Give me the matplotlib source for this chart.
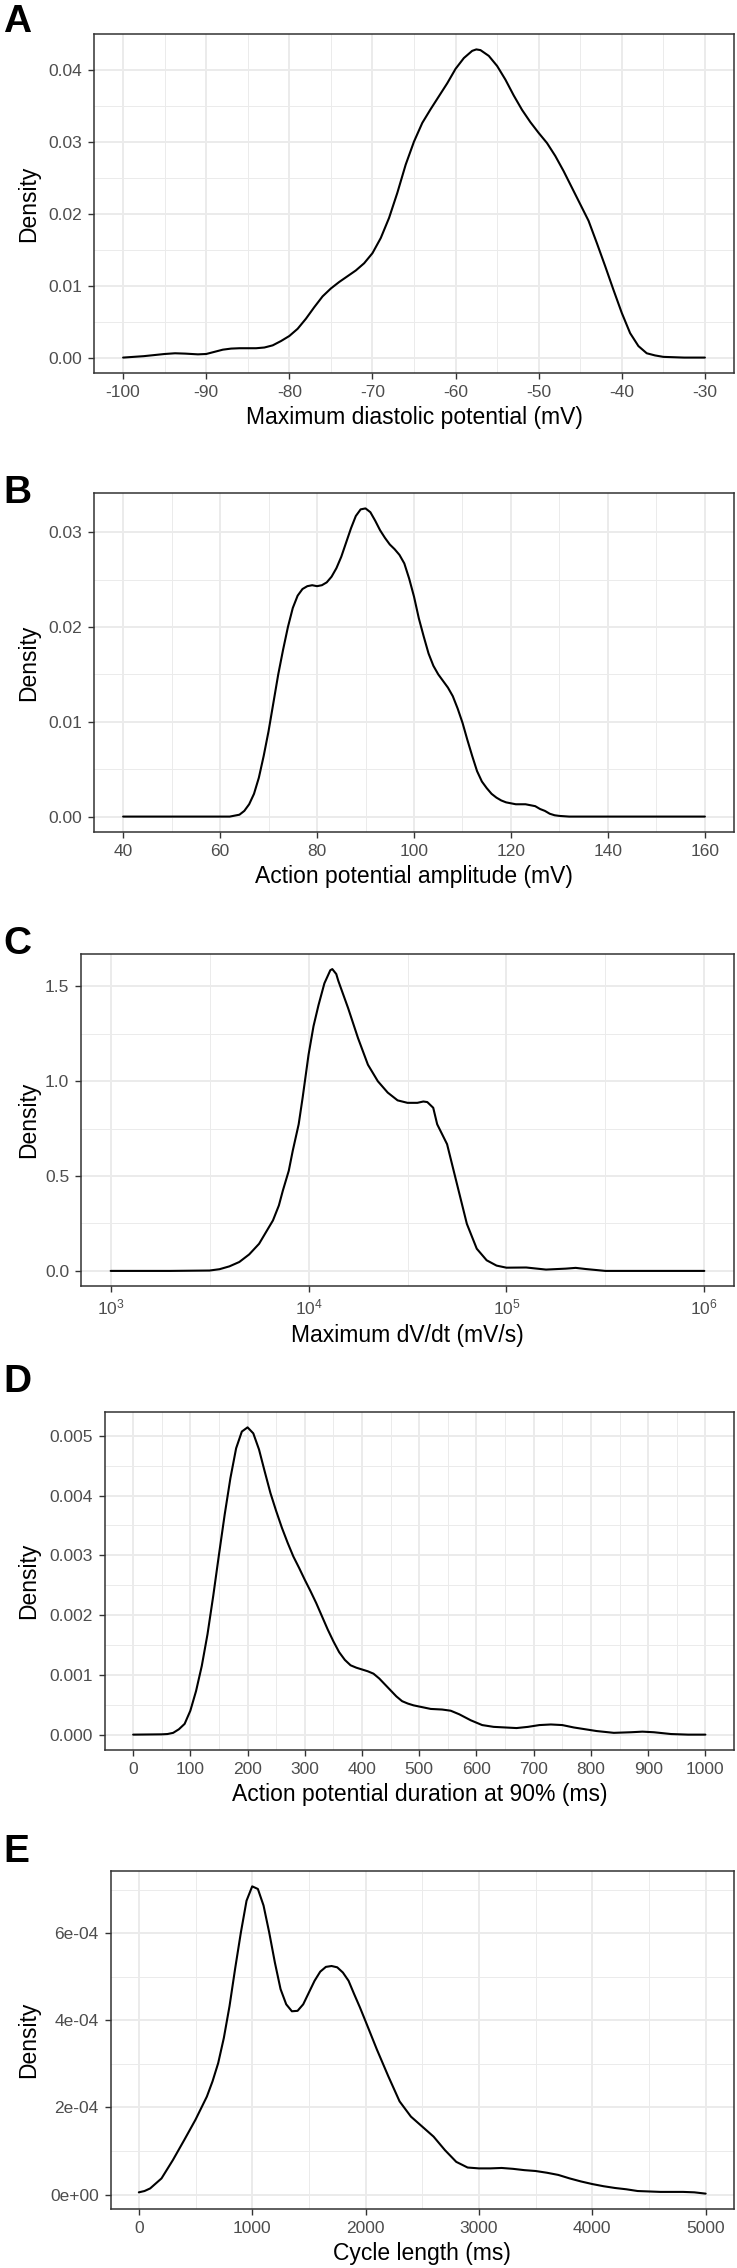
import matplotlib
matplotlib.use("Agg")
import matplotlib.pyplot as plt
import numpy as np
from matplotlib.ticker import FixedLocator, NullFormatter

plt.rcParams['font.family'] = ['Liberation Sans', 'DejaVu Sans']
plt.rcParams['mathtext.fontset'] = 'custom'
plt.rcParams['mathtext.rm'] = 'Liberation Sans'
plt.rcParams['mathtext.it'] = 'Liberation Sans:italic'
plt.rcParams['axes.unicode_minus'] = False

# ---------------- data ----------------
# A: Maximum diastolic potential (mV)
mdp_x = [-100, -97.5, -95, -93.75, -92.5, -91, -90, -89, -88, -87, -86, -85, -84, -83, -82, -81,
         -80, -79, -78, -77, -76, -75, -74, -73, -72, -71, -70, -69, -68, -67, -66, -65, -64,
         -63, -62, -61, -60, -59, -58, -57.5, -57, -56, -55, -54, -53, -52, -51, -50, -49, -48,
         -47, -46, -45, -44, -43, -42, -41, -40, -39, -38, -37, -36, -35, -32.5, -30]
mdp_y = [0.0, 0.0002, 0.0005, 0.0006, 0.00055, 0.00045, 0.0005, 0.0008, 0.0011, 0.00125, 0.0013,
         0.0013, 0.0013, 0.0014, 0.0017, 0.0023,
         0.0030, 0.0040, 0.0054, 0.0070, 0.0085, 0.0096, 0.0105, 0.0113, 0.0121, 0.0131, 0.0145,
         0.0166, 0.0194, 0.0229, 0.0268, 0.0300, 0.0326, 0.0345, 0.0363, 0.0381, 0.0401, 0.0416,
         0.0426, 0.0428, 0.0427, 0.0419, 0.0405, 0.0386, 0.0364, 0.0344, 0.0327, 0.0312, 0.0298,
         0.0280, 0.0259, 0.0236, 0.0213, 0.0190, 0.0159, 0.0127, 0.0094, 0.0062, 0.0034, 0.0016,
         0.0006, 0.0003, 0.0001, 0.0, 0.0]

# B: Action potential amplitude (mV)
apa_x = [40, 50, 60, 62, 64, 65, 66, 67, 68, 69, 70, 71, 72, 73, 74, 75, 76, 77, 78, 79, 80, 81,
         82, 83, 84, 85, 86, 87, 88, 89, 90, 91, 92, 93, 94, 95, 96, 97, 98, 99, 100, 101, 102,
         103, 104, 105, 106, 107, 108, 109, 110, 111, 112, 113, 114, 115, 116, 117, 118, 119,
         120, 121, 122, 123, 124, 125, 126, 127, 128, 129, 130, 132, 140, 150, 160]
apa_y = [0.0, 0.0, 0.0, 0.0, 0.0002, 0.0006, 0.0013, 0.0024, 0.0041, 0.0064, 0.0090, 0.0120,
         0.0150, 0.0176, 0.0200, 0.0220, 0.0233, 0.0240, 0.0243, 0.0244, 0.0243, 0.0244, 0.0247,
         0.0253, 0.0262, 0.0274, 0.0289, 0.0304, 0.0317, 0.0324, 0.0325, 0.0321, 0.0312, 0.0302,
         0.0294, 0.0287, 0.0282, 0.0276, 0.0267, 0.0251, 0.0232, 0.0209, 0.0190, 0.0172, 0.0159,
         0.0150, 0.0143, 0.0136, 0.0127, 0.0114, 0.0099, 0.0081, 0.0064, 0.0048, 0.0037, 0.0030,
         0.0024, 0.0020, 0.0017, 0.0015, 0.0014, 0.0013, 0.0013, 0.0013, 0.0012, 0.0011, 0.0008,
         0.0006, 0.0003, 0.00014, 0.00007, 0.0, 0.0, 0.0, 0.0]

# C: Maximum dV/dt (mV/s)
dvdt_x = [1000, 2000, 3162, 3548, 3981, 4467, 5012, 5623, 6310, 6607, 7079, 7413, 7943, 8318,
          8913, 9333, 10000, 10593, 11220, 12023, 12882, 13183, 13804, 14125, 15849, 17783,
          19953, 22387, 25119, 28184, 31623, 35481, 38019, 39811, 42658, 44668, 50119, 56234,
          63096, 70795, 79433, 89125, 100000, 125893, 158489, 199526, 223872, 251189, 316228,
          1000000]
dvdt_y = [0.0, 0.0, 0.002, 0.009, 0.024, 0.047, 0.087, 0.143, 0.231, 0.266, 0.345, 0.423, 0.528,
          0.633, 0.773, 0.913, 1.140, 1.290, 1.400, 1.516, 1.585, 1.591, 1.565, 1.530, 1.385,
          1.227, 1.087, 1.000, 0.940, 0.899, 0.886, 0.886, 0.893, 0.890, 0.860, 0.773, 0.668,
          0.458, 0.248, 0.117, 0.056, 0.028, 0.017, 0.018, 0.007, 0.012, 0.016, 0.010, 0.0,
          0.0]

# D: Action potential duration at 90% (ms)
apd_x = [0, 50, 60, 70, 80, 90, 100, 110, 120, 130, 140, 150, 160, 170, 180, 190, 200, 210, 220,
         230, 240, 250, 260, 270, 280, 290, 300, 310, 320, 330, 340, 350, 360, 370, 380, 390,
         400, 410, 420, 430, 440, 450, 460, 470, 480, 490, 500, 520, 540, 555, 570, 590, 610,
         630, 650, 670, 690, 710, 730, 750, 770, 790, 810, 840, 870, 890, 910, 940, 970, 1000]
apd_y = [0.0, 0.000005, 0.00001, 0.00003, 0.00009, 0.00018, 0.00040, 0.00073, 0.00115, 0.00168,
         0.00232, 0.00301, 0.00368, 0.00429, 0.00479, 0.00507, 0.00514, 0.00504, 0.00477,
         0.00440, 0.00404, 0.00374, 0.00346, 0.00321, 0.00298, 0.00279, 0.00259, 0.00240,
         0.00220, 0.00198, 0.00176, 0.00156, 0.00138, 0.00125, 0.00116, 0.00112, 0.00109,
         0.00106, 0.00102, 0.00094, 0.00084, 0.00074, 0.00064, 0.00056, 0.00052, 0.00049,
         0.00047, 0.00043, 0.00042, 0.00040, 0.00034, 0.00024, 0.00016, 0.00013, 0.00012,
         0.00011, 0.00013, 0.00016, 0.00017, 0.00016, 0.00012, 0.00009, 0.00006, 0.00003,
         0.00004, 0.00005, 0.00004, 0.00001, 0.0, 0.0]

# E: Cycle length (ms)
cl_x = [0, 50, 100, 200, 300, 400, 500, 600, 650, 700, 750, 800, 850, 900, 950, 1000, 1050, 1100,
        1150, 1200, 1250, 1300, 1350, 1400, 1450, 1500, 1550, 1600, 1650, 1700, 1750, 1800, 1850,
        1900, 1950, 2000, 2100, 2200, 2300, 2400, 2500, 2600, 2700, 2800, 2900, 3000, 3100, 3200,
        3300, 3400, 3500, 3600, 3700, 3800, 3900, 4000, 4100, 4200, 4300, 4400, 4500, 4600,
        4700, 4800, 4900, 5000]
cl_y = [0.05e-4, 0.08e-4, 0.14e-4, 0.37e-4, 0.79e-4, 1.25e-4, 1.72e-4, 2.25e-4, 2.60e-4,
        3.02e-4, 3.60e-4, 4.33e-4, 5.20e-4, 6.02e-4, 6.75e-4, 7.08e-4, 7.02e-4, 6.64e-4,
        6.02e-4, 5.33e-4, 4.72e-4, 4.37e-4, 4.21e-4, 4.22e-4, 4.37e-4, 4.64e-4, 4.91e-4,
        5.12e-4, 5.23e-4, 5.25e-4, 5.22e-4, 5.10e-4, 4.91e-4, 4.60e-4, 4.30e-4, 3.98e-4,
        3.33e-4, 2.72e-4, 2.14e-4, 1.79e-4, 1.56e-4, 1.33e-4, 1.02e-4, 0.75e-4, 0.62e-4,
        0.60e-4, 0.60e-4, 0.61e-4, 0.59e-4, 0.56e-4, 0.54e-4, 0.50e-4, 0.45e-4, 0.37e-4,
        0.30e-4, 0.24e-4, 0.19e-4, 0.15e-4, 0.12e-4, 0.08e-4, 0.07e-4, 0.06e-4, 0.06e-4,
        0.06e-4, 0.05e-4, 0.02e-4]

# tick definitions
a_xticks = [-100, -90, -80, -70, -60, -50, -40, -30]
a_xminor = [-95, -85, -75, -65, -55, -45, -35]
a_yticks = [0.00, 0.01, 0.02, 0.03, 0.04]
a_yminor = [0.005, 0.015, 0.025, 0.035, 0.045]
a_ylabels = ["0.00", "0.01", "0.02", "0.03", "0.04"]

b_xticks = [40, 60, 80, 100, 120, 140, 160]
b_xminor = [50, 70, 90, 110, 130, 150]
b_yticks = [0.00, 0.01, 0.02, 0.03]
b_yminor = [0.005, 0.015, 0.025]
b_ylabels = ["0.00", "0.01", "0.02", "0.03"]

c_xticks = [1e3, 1e4, 1e5, 1e6]
c_xminor = [3162.3, 31623, 316228]
c_xlabels = [r"$\mathregular{10^{3}}$", r"$\mathregular{10^{4}}$",
             r"$\mathregular{10^{5}}$", r"$\mathregular{10^{6}}$"]
c_yticks = [0.0, 0.5, 1.0, 1.5]
c_yminor = [0.25, 0.75, 1.25]
c_ylabels = ["0.0", "0.5", "1.0", "1.5"]

d_xticks = [0, 100, 200, 300, 400, 500, 600, 700, 800, 900, 1000]
d_xminor = [50, 150, 250, 350, 450, 550, 650, 750, 850, 950]
d_yticks = [0.000, 0.001, 0.002, 0.003, 0.004, 0.005]
d_yminor = [0.0005, 0.0015, 0.0025, 0.0035, 0.0045]
d_ylabels = ["0.000", "0.001", "0.002", "0.003", "0.004", "0.005"]

e_xticks = [0, 1000, 2000, 3000, 4000, 5000]
e_xminor = [500, 1500, 2500, 3500, 4500]
e_yticks = [0.0, 2e-4, 4e-4, 6e-4]
e_yminor = [1e-4, 3e-4, 5e-4, 7e-4]
e_ylabels = ["0e+00", "2e-04", "4e-04", "6e-04"]

xlabels = ["Maximum diastolic potential (mV)", "Action potential amplitude (mV)",
           "Maximum dV/dt (mV/s)", "Action potential duration at 90% (ms)", "Cycle length (ms)"]
letters = ["A", "B", "C", "D", "E"]

# ---------------- layout ----------------
W, H, DPI = 737, 2268, 100
fig = plt.figure(figsize=(W / DPI, H / DPI), dpi=DPI)
fig.patch.set_facecolor("white")

boxes = [(94, 34, 734, 373), (94, 493, 734, 832), (81, 954, 734, 1286),
         (104.5, 1412, 734, 1750), (110.5, 1871, 734, 2209)]
letter_base = [32, 503, 954, 1392, 1862]


def make_panel(i, x, y, xt, xm, xl, yt, ym, yl, log=False):
    l, t, r, b = boxes[i]
    ax = fig.add_axes([l / W, 1 - b / H, (r - l) / W, (b - t) / H])
    ax.plot(x, y, color="black", lw=1.5, zorder=3, solid_joinstyle="round",
            solid_capstyle="round")
    if log:
        ax.set_xscale("log")
        lx = np.log10([min(x), max(x)])
        rr = lx[1] - lx[0]
        ax.set_xlim(10 ** (lx[0] - 0.05 * rr), 10 ** (lx[1] + 0.05 * rr))
    else:
        rr = max(x) - min(x)
        ax.set_xlim(min(x) - 0.05 * rr, max(x) + 0.05 * rr)
    ry = max(y) - min(y)
    ax.set_ylim(min(y) - 0.05 * ry, max(y) + 0.05 * ry)

    ax.xaxis.set_major_locator(FixedLocator(xt))
    ax.xaxis.set_minor_locator(FixedLocator(xm))
    ax.xaxis.set_minor_formatter(NullFormatter())
    if xl is None:
        xl = [str(v) for v in xt]
    ax.set_xticklabels(xl)
    ax.yaxis.set_major_locator(FixedLocator(yt))
    ax.yaxis.set_minor_locator(FixedLocator(ym))
    ax.yaxis.set_minor_formatter(NullFormatter())
    ax.set_yticklabels(yl)

    ax.grid(which="major", color="#EBEBEB", lw=1.4)
    ax.grid(which="minor", color="#EBEBEB", lw=0.7)
    ax.set_axisbelow(True)
    ax.tick_params(which="minor", length=0)
    ax.tick_params(which="major", length=4.1, width=1.0, color="#333333",
                   labelcolor="#4D4D4D", labelsize=12.5)
    ax.tick_params(axis="x", pad=4.5)
    ax.tick_params(axis="y", pad=4.3)
    for s in ax.spines.values():
        s.set_color("#333333")
        s.set_linewidth(1.1)
    ax.set_xlabel(xlabels[i], fontsize=16.5, color="black", labelpad=4.5)
    cy = (t + b) / 2
    fig.text(28.5 / W, 1 - cy / H, "Density", rotation=90, ha="center", va="center",
             fontsize=16.5, color="black")
    fig.text(3 / W, 1 - letter_base[i] / H, letters[i], ha="left", va="baseline",
             fontsize=28, fontweight="bold", color="black")
    return ax


make_panel(0, mdp_x, mdp_y, a_xticks, a_xminor, None, a_yticks, a_yminor, a_ylabels)
make_panel(1, apa_x, apa_y, b_xticks, b_xminor, None, b_yticks, b_yminor, b_ylabels)
make_panel(2, dvdt_x, dvdt_y, c_xticks, c_xminor, c_xlabels, c_yticks, c_yminor, c_ylabels, log=True)
make_panel(3, apd_x, apd_y, d_xticks, d_xminor, None, d_yticks, d_yminor, d_ylabels)
make_panel(4, cl_x, cl_y, e_xticks, e_xminor, None, e_yticks, e_yminor, e_ylabels)

fig.savefig("out.png", dpi=DPI, facecolor="white")
